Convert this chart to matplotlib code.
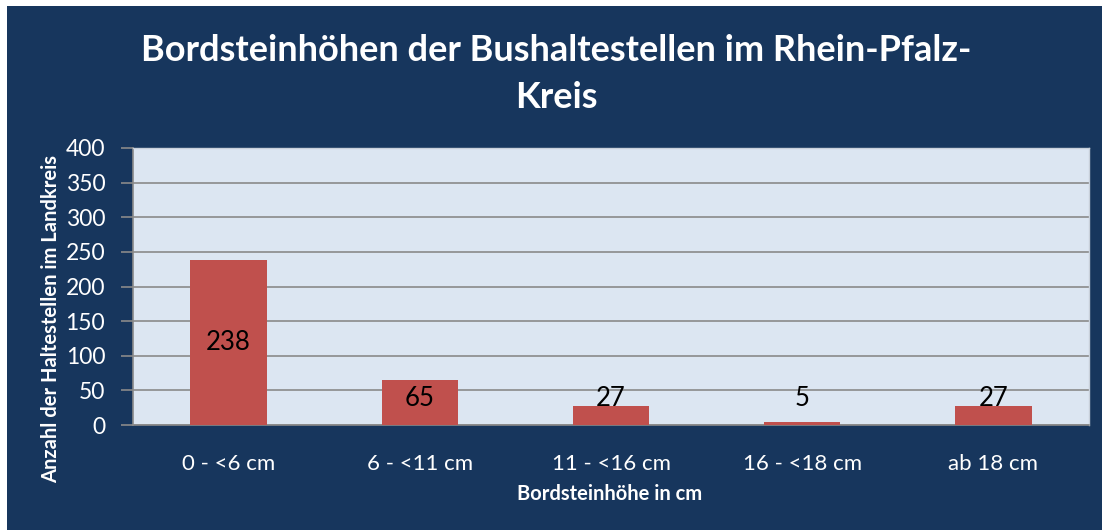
import matplotlib
matplotlib.use("Agg")
import matplotlib.pyplot as plt

categories = ["0 - <6 cm", "6 - <11 cm", "11 - <16 cm", "16 - <18 cm", "ab 18 cm"]
values = [238, 65, 27, 5, 27]
yticks = [0, 50, 100, 150, 200, 250, 300, 350, 400]

title = "Bordsteinhöhen der Bushaltestellen im Rhein-Pfalz-\nKreis"
xlabel = "Bordsteinhöhe in cm"
ylabel = "Anzahl der Haltestellen im Landkreis"

navy = "#17365d"
face = "#dce6f2"
bar_color = "#c0504d"
grid_color = "#8a8a8a"

plt.rcParams["font.family"] = ["Lato", "DejaVu Sans"]

W, H = 1102, 530
fig = plt.figure(figsize=(W / 100, H / 100), dpi=100)
fig.patch.set_facecolor("white")
# navy panel
fig.patches.append(plt.Rectangle((7 / W, 0), 1 - 7 / W, 1 - 6 / H, transform=fig.transFigure,
                                 facecolor=navy, edgecolor="none", zorder=-10))

left, right, top, bottom = 133, 1089, 148, 425
ax = fig.add_axes([left / W, 1 - bottom / H, (right - left) / W, (bottom - top) / H])
ax.set_zorder(5)
ax.set_facecolor(face)

x = list(range(len(categories)))
ax.bar(x, values, width=0.4, color=bar_color, zorder=3)
ax.set_xlim(-0.5, len(categories) - 0.5)
ax.set_ylim(0, 400)
ax.set_yticks(yticks)
ax.set_yticklabels([str(t) for t in yticks])
ax.set_xticks(x)
ax.set_xticklabels(categories)
ax.grid(axis="y", color=grid_color, linewidth=1.2, zorder=1)
ax.tick_params(axis="y", colors=grid_color, labelcolor="white", labelsize=16.5, length=9, width=1.2, pad=11)
ax.tick_params(axis="x", length=0, labelcolor="white", labelsize=16, pad=21)
for s in ["top", "right"]:
    ax.spines[s].set_color("#c8d0da")
    ax.spines[s].set_linewidth(1)
for s in ["left", "bottom"]:
    ax.spines[s].set_color(grid_color)
    ax.spines[s].set_linewidth(1.2)

for xi, v in zip(x, values):
    ypos = max(v / 2, 38)
    ax.text(xi, ypos, str(v), ha="center", va="center", fontsize=18.5, color="black", zorder=4)

fig.text(556 / W, 1 - 74 / H, title, ha="center", va="center", color="white",
         fontsize=26, fontweight="bold", linespacing=1.5)
fig.text(610 / W, 1 - 494 / H, xlabel, ha="center", va="center", color="white",
         fontsize=14.5, fontweight="bold")
fig.text(51 / W, 1 - 319 / H, ylabel, ha="center", va="center", color="white",
         fontsize=14.5, fontweight="bold", rotation=90)

fig.savefig("out.png", dpi=100, facecolor=fig.get_facecolor())
